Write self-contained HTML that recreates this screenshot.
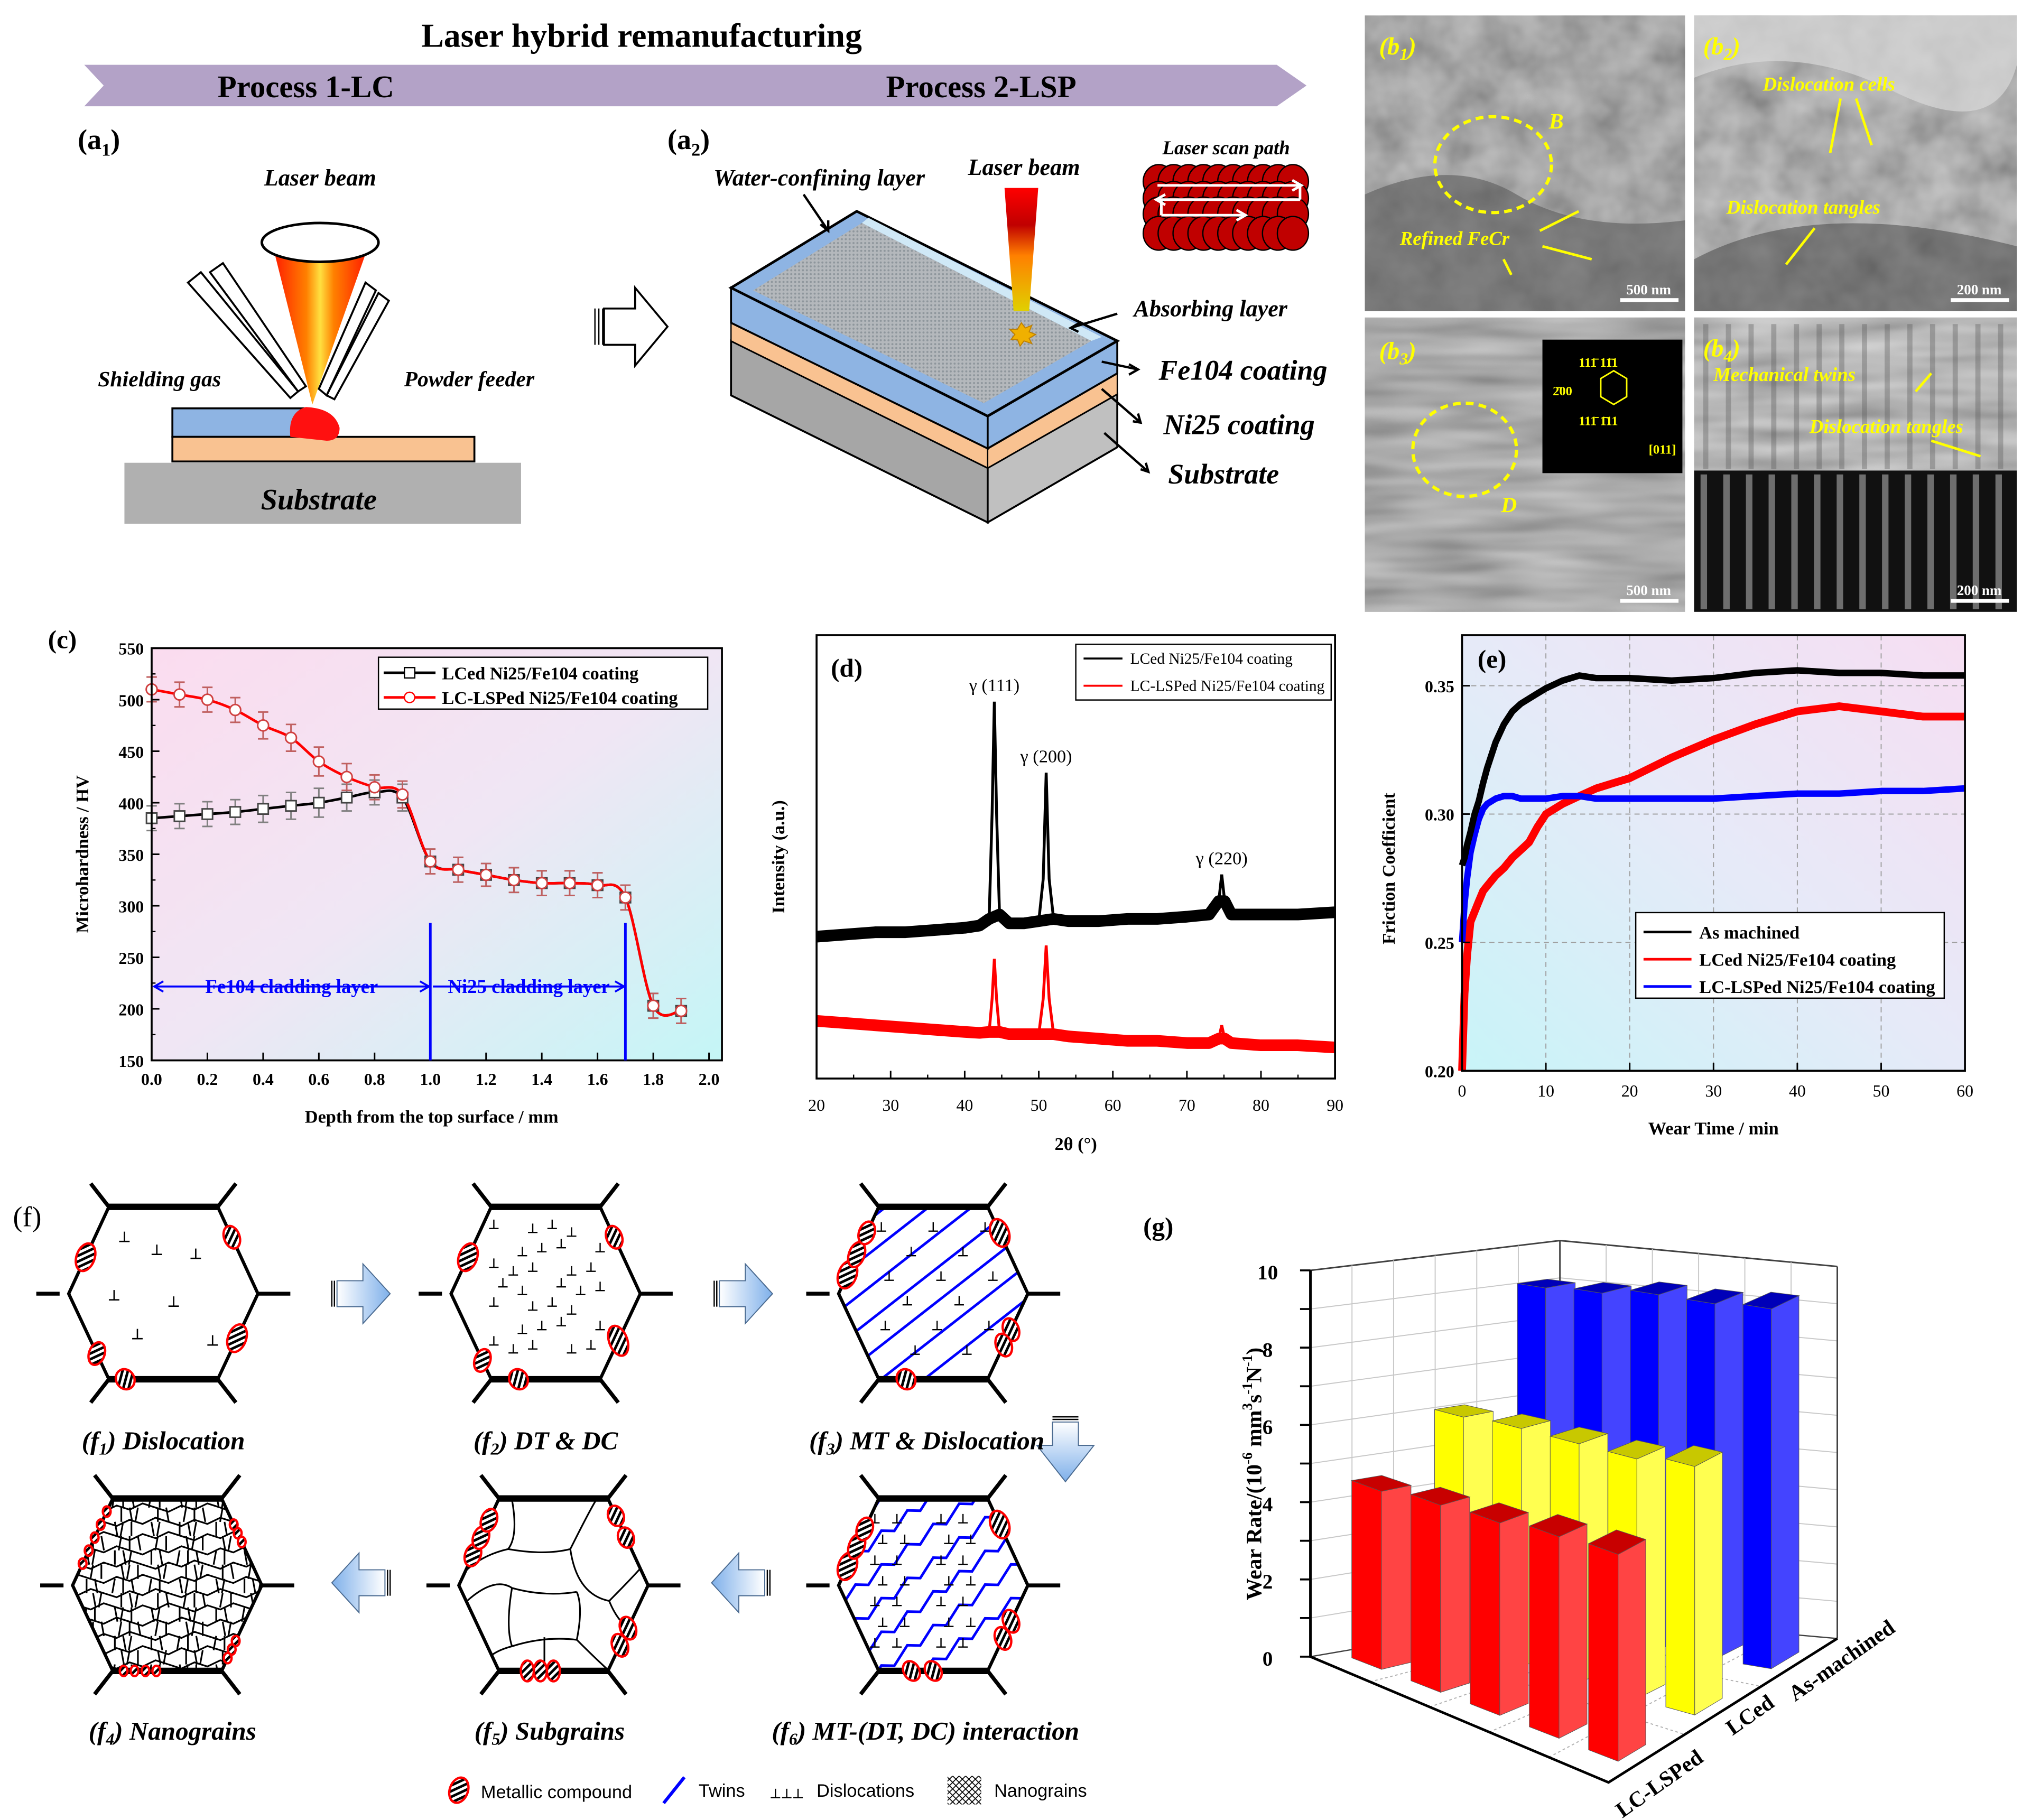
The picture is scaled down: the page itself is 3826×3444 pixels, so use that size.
<!DOCTYPE html>
<html><head><meta charset="utf-8">
<style>
html,body{margin:0;padding:0;background:#fff;}
svg{display:block;}
.s{font-family:"Liberation Serif",serif;}
.ss{font-family:"Liberation Sans",sans-serif;}
.bi{font-family:"Liberation Serif",serif;font-weight:bold;font-style:italic;}
.b{font-family:"Liberation Serif",serif;font-weight:bold;}
</style></head>
<body>
<svg id="fig" xmlns="http://www.w3.org/2000/svg" width="3826" height="3444" viewBox="0 0 1560 1404" preserveAspectRatio="none">
<defs>
<linearGradient id="beam1" x1="0" x2="1" y1="0" y2="0"><stop offset="0" stop-color="#ff2000"/><stop offset="0.35" stop-color="#ff8000"/><stop offset="0.5" stop-color="#ffe040"/><stop offset="0.65" stop-color="#ff8000"/><stop offset="1" stop-color="#ff2000"/></linearGradient>
<linearGradient id="beam2" x1="0" x2="0" y1="0" y2="1"><stop offset="0" stop-color="#ff0000"/><stop offset="0.3" stop-color="#c00000"/><stop offset="0.55" stop-color="#ff8000"/><stop offset="1" stop-color="#e0d000"/></linearGradient>
<linearGradient id="bgC" x1="0" y1="0" x2="1" y2="1"><stop offset="0" stop-color="#fbdcef"/><stop offset="0.5" stop-color="#f0e6f4"/><stop offset="1" stop-color="#c4f6f6"/></linearGradient>
<linearGradient id="bgE" x1="0" y1="1" x2="1" y2="0"><stop offset="0" stop-color="#c8f4f8"/><stop offset="0.5" stop-color="#e6eaf8"/><stop offset="1" stop-color="#f6def2"/></linearGradient>
<linearGradient id="arrR" x1="0" x2="1"><stop offset="0" stop-color="#ffffff"/><stop offset="1" stop-color="#7fb0ea"/></linearGradient>
<linearGradient id="arrL" x1="1" x2="0"><stop offset="0" stop-color="#ffffff"/><stop offset="1" stop-color="#7fb0ea"/></linearGradient>
<linearGradient id="arrD" x1="0" x2="0" y1="0" y2="1"><stop offset="0" stop-color="#ffffff"/><stop offset="1" stop-color="#7fb0ea"/></linearGradient>
<pattern id="hatch" width="4" height="4" patternUnits="userSpaceOnUse" patternTransform="rotate(45)"><rect width="4" height="4" fill="#fff"/><rect width="2" height="4" fill="#000"/></pattern>
<pattern id="mesh" width="3" height="3" patternUnits="userSpaceOnUse"><rect width="3" height="3" fill="#b4b8bc"/><circle cx="1.5" cy="1.5" r="0.8" fill="#8e969c"/></pattern>
<pattern id="xh" width="5" height="5" patternUnits="userSpaceOnUse"><path d="M0 0L5 5M5 0L0 5" stroke="#000" stroke-width="0.7"/></pattern>
<filter id="tex" x="0" y="0" width="1" height="1"><feTurbulence type="fractalNoise" baseFrequency="0.035" numOctaves="3" seed="4"/><feColorMatrix type="saturate" values="0"/><feComponentTransfer><feFuncA type="linear" slope="0" intercept="0.55"/></feComponentTransfer></filter>
<filter id="tex2" x="0" y="0" width="1" height="1"><feTurbulence type="fractalNoise" baseFrequency="0.012 0.08" numOctaves="2" seed="9"/><feColorMatrix type="saturate" values="0"/><feComponentTransfer><feFuncA type="linear" slope="0" intercept="0.6"/></feComponentTransfer></filter>
</defs>

<text class="b" x="495" y="36" font-size="26" text-anchor="middle">Laser hybrid remanufacturing</text>
<polygon points="65,50 985,50 1008,66 985,82 65,82 80,66" fill="#b3a2c7"/>
<text class="b" x="236" y="75" font-size="24" text-anchor="middle">Process 1-LC</text>
<text class="b" x="757" y="75" font-size="24" text-anchor="middle">Process 2-LSP</text>

<g>
<text class="b" x="60" y="115" font-size="22">(a<tspan font-size="14" dy="5">1</tspan><tspan dy="-5">)</tspan></text>
<text class="bi" x="247" y="143" font-size="18" text-anchor="middle">Laser beam</text>
<polygon points="212,196 282,196 241,312" fill="url(#beam1)"/>
<ellipse cx="247" cy="187" rx="45" ry="15" fill="#fff" stroke="#000" stroke-width="2"/>
<polygon points="145,218 155,210 230,302 224,307" fill="#fff" stroke="#000" stroke-width="1.5"/>
<polygon points="162,210 172,203 236,298 230,302" fill="#fff" stroke="#000" stroke-width="1.5"/>
<polygon points="300,232 292,226 252,305 258,308" fill="#fff" stroke="#000" stroke-width="1.5"/>
<polygon points="290,224 282,218 246,300 252,305" fill="#fff" stroke="#000" stroke-width="1.5"/>
<rect x="133" y="315" width="104" height="22" fill="#8eb4e3" stroke="#000" stroke-width="1.5"/>
<rect x="133" y="337" width="233" height="19" fill="#f9c291" stroke="#000" stroke-width="1.5"/>
<path d="M224 337 Q222 318 236 314 Q258 315 262 330 Q262 340 252 340 Z" fill="#ff1010"/>
<rect x="96" y="357" width="306" height="47" fill="#b0b0b0"/>
<text class="bi" x="246" y="393" font-size="23" text-anchor="middle">Substrate</text>
<text class="bi" x="123" y="298" font-size="17" text-anchor="middle">Shielding gas</text>
<text class="bi" x="362" y="298" font-size="17" text-anchor="middle">Powder feeder</text>
</g>
<g>
<polygon points="466,238 490,238 490,222 515,252 490,282 490,266 466,266" fill="#fff" stroke="#000" stroke-width="1.5"/>
<path d="M459 238V266M462 238V266M465 238V266" stroke="#000" stroke-width="1"/>
</g>

<g>
<text class="b" x="515" y="115" font-size="22">(a<tspan font-size="14" dy="5">2</tspan><tspan dy="-5">)</tspan></text>
<polygon points="564,305 762,403 762,361 564,263" fill="#a6a6a6" stroke="#000" stroke-width="1.5"/>
<polygon points="762,403 862,345 862,304 762,361" fill="#c0c0c0" stroke="#000" stroke-width="1.5"/>
<polygon points="564,263 762,361 762,346 564,249" fill="#f9c291" stroke="#000" stroke-width="1"/>
<polygon points="762,361 862,304 862,288 762,346" fill="#f9c291" stroke="#000" stroke-width="1"/>
<polygon points="564,249 762,346 762,321 564,222" fill="#8eb4e3" stroke="#000" stroke-width="1.5"/>
<polygon points="762,346 862,288 862,263 762,321" fill="#8eb4e3" stroke="#000" stroke-width="1.5"/>
<polygon points="564,222 661,163 862,263 762,321" fill="#8eb4e3" stroke="#000" stroke-width="2"/>
<polygon points="581,224 665,172 842,263 759,311" fill="url(#mesh)"/>
<polygon points="665,172 670,168 850,260 842,263" fill="#cfe8f6"/>
<polygon points="775,145 801,145 794,240 782,240" fill="url(#beam2)"/>
<polygon points="788,249 791,253 796,251 794,256 799,258 794,261 796,265 790,263 787,267 785,262 780,262 783,258 779,254 785,254" fill="#f0b000" stroke="#c08000" stroke-width="0.8"/>
<text class="bi" x="632" y="143" font-size="18" text-anchor="middle">Water-confining layer</text>
<text class="bi" x="790" y="135" font-size="18" text-anchor="middle">Laser beam</text>
<text class="bi" x="946" y="119" font-size="15" text-anchor="middle">Laser scan path</text>
<text class="bi" x="934" y="244" font-size="18" text-anchor="middle">Absorbing layer</text>
<text class="bi" x="959" y="293" font-size="22" text-anchor="middle">Fe104 coating</text>
<text class="bi" x="956" y="335" font-size="22" text-anchor="middle">Ni25 coating</text>
<text class="bi" x="944" y="373" font-size="22" text-anchor="middle">Substrate</text>
<g stroke="#000" stroke-width="1.8" fill="none">
<path d="M620 150L639 178M633 173L639 178L639 170"/>
<path d="M862 242L826 253M833 249L826 253L832 256"/>
<path d="M850 279L878 285M871 281L878 285L871 289"/>
<path d="M850 300L880 326M874 325L880 326L878 319"/>
<path d="M852 334L886 364M880 362L886 364L884 357"/>
</g>
<g id="scanpath"></g>
</g>

<g>
<rect x="1053" y="12" width="247" height="228" fill="#8a8a8a"/>
<rect x="1053" y="12" width="247" height="228" filter="url(#tex)"/>
<path d="M1053 150 Q1120 120 1170 150 T1300 170 L1300 240 L1053 240Z" fill="#5c5c5c" opacity="0.6"/>
<ellipse cx="1152" cy="127" rx="45" ry="37" fill="none" stroke="#ffff00" stroke-width="2.5" stroke-dasharray="6,4"/>
<text class="bi" x="1064" y="42" font-size="19" fill="#ffff00">(b<tspan font-size="13" dy="4">1</tspan><tspan dy="-4">)</tspan></text>
<text class="bi" x="1195" y="99" font-size="17" fill="#ffff00">B</text>
<text class="bi" x="1080" y="189" font-size="15" fill="#ffff00">Refined FeCr</text>
<path d="M1188 178L1218 163M1160 200L1166 212M1190 190L1228 200" stroke="#ffff00" stroke-width="2"/>
<rect x="1250" y="230" width="45" height="3" fill="#fff"/>
<text class="b" x="1272" y="227" font-size="11" fill="#fff" text-anchor="middle">500 nm</text>
</g>
<g>
<rect x="1307" y="12" width="249" height="228" fill="#9a9a9a"/>
<rect x="1307" y="12" width="249" height="228" filter="url(#tex)"/>
<path d="M1307 60 Q1380 30 1460 70 T1556 50 L1556 12 L1307 12Z" fill="#d8d8d8" opacity="0.7"/>
<path d="M1307 200 Q1400 150 1556 190 L1556 240 L1307 240Z" fill="#404040" opacity="0.5"/>
<text class="bi" x="1314" y="42" font-size="19" fill="#ffff00">(b<tspan font-size="13" dy="4">2</tspan><tspan dy="-4">)</tspan></text>
<text class="bi" x="1360" y="70" font-size="15" fill="#ffff00">Dislocation cells</text>
<text class="bi" x="1332" y="165" font-size="15" fill="#ffff00">Dislocation tangles</text>
<path d="M1420 76L1412 118M1432 76L1444 112M1400 176L1378 204" stroke="#ffff00" stroke-width="2"/>
<rect x="1505" y="230" width="45" height="3" fill="#fff"/>
<text class="b" x="1527" y="227" font-size="11" fill="#fff" text-anchor="middle">200 nm</text>
</g>
<g>
<rect x="1053" y="245" width="247" height="227" fill="#909090"/>
<rect x="1053" y="245" width="247" height="227" filter="url(#tex2)"/>
<ellipse cx="1130" cy="347" rx="40" ry="36" fill="none" stroke="#ffff00" stroke-width="2.5" stroke-dasharray="6,4"/>
<text class="bi" x="1064" y="277" font-size="19" fill="#ffff00">(b<tspan font-size="13" dy="4">3</tspan><tspan dy="-4">)</tspan></text>
<text class="bi" x="1158" y="395" font-size="17" fill="#ffff00">D</text>
<rect x="1190" y="262" width="108" height="103" fill="#000"/>
<text class="b" x="1218" y="283" font-size="10" fill="#ffff00">111̄  11̄1</text>
<text class="b" x="1198" y="305" font-size="10" fill="#ffff00">2̄00</text>
<text class="b" x="1218" y="328" font-size="10" fill="#ffff00">111̄  1̄11</text>
<path d="M1235 292l10 -6l10 6v14l-10 6l-10 -6z" fill="none" stroke="#ffff00" stroke-width="1.2"/>
<text class="b" x="1272" y="350" font-size="10" fill="#ffff00">[011]</text>
<rect x="1250" y="462" width="45" height="3" fill="#fff"/>
<text class="b" x="1272" y="459" font-size="11" fill="#fff" text-anchor="middle">500 nm</text>
</g>
<g>
<rect x="1307" y="245" width="249" height="118" fill="#b0b0b0"/>
<rect x="1307" y="245" width="249" height="118" filter="url(#tex2)"/>
<rect x="1307" y="363" width="249" height="109" fill="#111"/>
<g id="b4streaks"></g>
<text class="bi" x="1314" y="275" font-size="19" fill="#ffff00">(b<tspan font-size="13" dy="4">4</tspan><tspan dy="-4">)</tspan></text>
<text class="bi" x="1322" y="294" font-size="15" fill="#ffff00">Mechanical twins</text>
<text class="bi" x="1396" y="334" font-size="15" fill="#ffff00">Dislocation tangles</text>
<path d="M1478 302L1490 288M1490 340L1528 352" stroke="#ffff00" stroke-width="2"/>
<rect x="1505" y="462" width="45" height="3" fill="#fff"/>
<text class="b" x="1527" y="459" font-size="11" fill="#fff" text-anchor="middle">200 nm</text>
</g>

<g id="chartC">
<text class="b" x="37" y="500" font-size="20">(c)</text>
<rect x="117" y="500" width="440" height="318" fill="url(#bgC)"/>
</g>
<g id="chartD">
<rect x="630" y="490" width="400" height="342" fill="#fff"/>
<text class="b" x="641" y="522" font-size="20">(d)</text>
</g>
<g id="chartE">
<rect x="1128" y="490" width="388" height="336" fill="url(#bgE)"/>
</g>

<g id="panelF">
<text class="s" x="10" y="946" font-size="22">(f)</text>
</g>

<g id="chartG">
<text class="b" x="882" y="953" font-size="20">(g)</text>
</g>
</svg>

<script>
const NS='http://www.w3.org/2000/svg';
function mk(tag, attrs, parent){const e=document.createElementNS(NS,tag);for(const k in attrs)e.setAttribute(k,attrs[k]);parent.appendChild(e);return e;}
function txt(s, attrs, parent){const e=mk('text',attrs,parent);e.textContent=s;return e;}

/* ---------- chart c data ---------- */
const depthC=[0,0.1,0.2,0.3,0.4,0.5,0.6,0.7,0.8,0.9,1.0,1.1,1.2,1.3,1.4,1.5,1.6,1.7,1.8,1.9];
const hvLC=[385,387,389,391,394,397,400,405,410,405,343,335,330,325,322,322,320,308,203,198];
const hvLSP=[510,505,500,490,475,463,440,425,415,408,343,335,330,325,322,322,320,308,203,198];
const errC=[12,12,12,12,13,13,14,13,12,13,12,12,11,12,12,12,12,12,12,12];
const xTicksC=[0,0.2,0.4,0.6,0.8,1.0,1.2,1.4,1.6,1.8,2.0];
const yTicksC=[150,200,250,300,350,400,450,500,550];

/* ---------- chart d data ---------- */
const angD=[20,24,28,32,36,40,42,43.3,43.7,44,44.3,44.7,46,48,50,50.6,51,51.4,52,54,58,62,66,70,73,74.3,74.7,75.1,76,80,85,90];
const intLC=[32,32.5,33,33,33.5,34,34.5,36,60,85,60,37,35,35,35.5,45,69,45,36,35.5,35.5,36,36,36.5,37,40,46,40,37,37,37,37.5];
const intLSP=[13,12.5,12,11.5,11,10.5,10.3,10.5,18,27,18,10.5,10,10,10,18,30,18,10,9.5,9,8.5,8.5,8,8,9,12,9,8,7.5,7.5,7];
const peakAngD=[43.7,44,44.3,50.6,51,51.4,74.7];
const xTicksD=[20,30,40,50,60,70,80,90];

/* ---------- chart e data ---------- */
const timeE=[0,0.3,0.6,1,1.5,2,2.5,3,4,5,6,7,8,9,10,12,14,16,18,20,25,30,35,40,45,50,55,60];
const fcAsMachined=[0.28,0.283,0.288,0.293,0.3,0.305,0.312,0.318,0.328,0.335,0.34,0.343,0.345,0.347,0.349,0.352,0.354,0.353,0.353,0.353,0.352,0.353,0.355,0.356,0.355,0.355,0.354,0.354];
const fcLCed=[0.20,0.23,0.245,0.258,0.262,0.266,0.27,0.272,0.276,0.279,0.283,0.286,0.289,0.295,0.30,0.304,0.307,0.31,0.312,0.314,0.322,0.329,0.335,0.34,0.342,0.34,0.338,0.338];
const fcLCLSP=[0.25,0.265,0.275,0.285,0.292,0.298,0.302,0.304,0.306,0.307,0.307,0.306,0.306,0.306,0.306,0.307,0.307,0.306,0.306,0.306,0.306,0.306,0.307,0.308,0.308,0.309,0.309,0.31];
const xTicksE=[0,10,20,30,40,50,60];
const yTicksE=[0.20,0.25,0.30,0.35];

/* ---------- chart g data ---------- */
const rowsG=['LC-LSPed','LCed','As-machined'];
const wearLSP=[4.6,4.8,4.9,5.1,5.2];
const wearLC=[6.1,6.2,6.2,6.2,6.4];
const wearAM=[9.1,9.2,9.4,9.4,9.5];
const zTicksG=[0,2,4,6,8,10];

(function(){
 const g=document.getElementById('scanpath');
 const rows=[140,153,165,180];
 rows.forEach(ry=>{for(let i=0;i<10;i++){mk('ellipse',{cx:894+i*11.5,cy:ry,rx:12,ry:13,fill:'#c00000',stroke:'#000','stroke-width':1},g);}});
 mk('path',{d:'M893 143H1003M1003 143V154M893 154H1003M896 154V166M896 166H960',stroke:'#fff','stroke-width':2,fill:'none'},g);
 mk('path',{d:'M997 139L1004 143L997 147M899 150L892 154L899 158M954 162L961 166L954 170',stroke:'#fff','stroke-width':2,fill:'none'},g);
 const s=document.getElementById('b4streaks');
 for(let i=0;i<14;i++){mk('rect',{x:1312+i*17.5,y:366,width:5,height:104,fill:'#bbbbbb',opacity:0.55},s);}
 for(let i=0;i<14;i++){mk('rect',{x:1314+i*17.5,y:250,width:4,height:112,fill:'#555',opacity:0.35},s);}
})();

function smoothPath(pts){
 let d='M'+pts[0][0]+' '+pts[0][1];
 for(let i=0;i<pts.length-1;i++){
  const p0=pts[Math.max(0,i-1)],p1=pts[i],p2=pts[i+1],p3=pts[Math.min(pts.length-1,i+2)];
  const c1=[p1[0]+(p2[0]-p0[0])/6,p1[1]+(p2[1]-p0[1])/6],c2=[p2[0]-(p3[0]-p1[0])/6,p2[1]-(p3[1]-p1[1])/6];
  d+=' C'+c1[0].toFixed(1)+' '+c1[1].toFixed(1)+' '+c2[0].toFixed(1)+' '+c2[1].toFixed(1)+' '+p2[0].toFixed(1)+' '+p2[1].toFixed(1);
 }
 return d;
}

/* ===== chart c ===== */
(function(){
 const g=document.getElementById('chartC');
 const xC=v=>117+v*215, yC=v=>818-(v-150)*0.795;
 [hvLC,hvLSP].forEach((arr,si)=>{
  arr.forEach((v,i)=>{
   const x=xC(depthC[i]),e=errC[i];
   const eb=mk('path',{d:`M${x} ${yC(v-e)}V${yC(v+e)}M${x-4} ${yC(v-e)}H${x+4}M${x-4} ${yC(v+e)}H${x+4}`,stroke:si?'#c06060':'#808080','stroke-width':1.2,fill:'none'},g);
   
   
  });
 });
 const lineLC=mk('path',{d:smoothPath(depthC.map((d,i)=>[xC(d),yC(hvLC[i])])),stroke:'#000','stroke-width':2,fill:'none'},g);
 
 
 const lineLSP=mk('path',{d:smoothPath(depthC.map((d,i)=>[xC(d),yC(hvLSP[i])])),stroke:'#ff0000','stroke-width':2,fill:'none'},g);
 
 
 depthC.forEach((d,i)=>{
  const m=mk('rect',{x:xC(d)-4,y:yC(hvLC[i])-4,width:8,height:8,fill:'#fff',stroke:'#444','stroke-width':1.2},g);
  
  
  const c=mk('circle',{cx:xC(d),cy:yC(hvLSP[i]),r:4.2,fill:'#fff',stroke:'#d04040','stroke-width':1.2},g);
  
  
 });
 mk('rect',{x:117,y:500,width:440,height:318,fill:'none',stroke:'#000','stroke-width':1.5},g);
 xTicksC.forEach(v=>{
  mk('line',{x1:xC(v),x2:xC(v),y1:818,y2:812,stroke:'#000','stroke-width':1.2},g);
  const t=txt(v.toFixed(1),{x:xC(v),y:837,'font-size':13,'text-anchor':'middle',class:'b'},g);
  
  
 });
 yTicksC.forEach(v=>{
  mk('line',{x1:117,x2:123,y1:yC(v),y2:yC(v),stroke:'#000','stroke-width':1.2},g);
  if(v<550) mk('line',{x1:117,x2:120,y1:yC(v+25),y2:yC(v+25),stroke:'#000','stroke-width':1},g);
  const t=txt(String(v),{x:111,y:yC(v)+5,'font-size':13,'text-anchor':'end',class:'b'},g);
  
  
 });
 const xt=txt('Depth from the top surface / mm',{x:333,y:866,'font-size':14,'text-anchor':'middle',class:'b'},g);
 
 
 const yt=txt('Microhardness / HV',{x:0,y:0,'font-size':14,'text-anchor':'middle',class:'b',transform:'translate(68,659) rotate(-90)'},g);
 
 
 mk('path',{d:`M${xC(1.0)} 712V818M${xC(1.7)} 712V818`,stroke:'#0000ff','stroke-width':2},g);
 mk('path',{d:`M120 761H${xC(1.0)-2}M${xC(1.0)+2} 761H${xC(1.7)-2}M126 757L119 761L126 765M${xC(1.0)-8} 757L${xC(1.0)-1} 761L${xC(1.0)-8} 765M${xC(1.7)-8} 757L${xC(1.7)-1} 761L${xC(1.7)-8} 765`,stroke:'#0000ff','stroke-width':1.5,fill:'none'},g);
 const a1=txt('Fe104 cladding layer',{x:225,y:766,'font-size':15,'text-anchor':'middle',class:'b',fill:'#0000ff'},g);
 
 
 const a2=txt('Ni25 cladding layer',{x:408,y:766,'font-size':15,'text-anchor':'middle',class:'b',fill:'#0000ff'},g);
 
 
 const lg=mk('g',{},g);
 
 
 mk('rect',{x:292,y:507,width:254,height:40,fill:'#fff',stroke:'#000','stroke-width':1},lg);
 mk('line',{x1:296,x2:336,y1:519,y2:519,stroke:'#000','stroke-width':2},lg);
 mk('rect',{x:312,y:515,width:8,height:8,fill:'#fff',stroke:'#000'},lg);
 txt('LCed Ni25/Fe104 coating',{x:341,y:524,'font-size':14,class:'b'},lg);
 mk('line',{x1:296,x2:336,y1:538,y2:538,stroke:'#ff0000','stroke-width':2},lg);
 mk('circle',{cx:316,cy:538,r:4,fill:'#fff',stroke:'#ff0000'},lg);
 txt('LC-LSPed Ni25/Fe104 coating',{x:341,y:543,'font-size':14,class:'b'},lg);
})();

/* ===== chart d ===== */
(function(){
 const g=document.getElementById('chartD');
 const xD=a=>630+(a-20)*400/70, yD=I=>832-I*3.42;
 const series=[[intLC,'#000','series-lced-xrd'],[intLSP,'#ff0000','series-lc-lsped-xrd']];
 series.forEach(([arr,col,nm])=>{
  const base=angD.map((a,i)=>[a,arr[i]]).filter(p=>peakAngD.indexOf(p[0])<0);
  const band=mk('polyline',{points:base.map(p=>xD(p[0])+','+yD(p[1])).join(' '),stroke:col,'stroke-width':9,fill:'none','stroke-linejoin':'round'},g);
  
  
  const l=mk('polyline',{points:angD.map((a,i)=>xD(a)+','+yD(arr[i])).join(' '),stroke:col,'stroke-width':2.2,fill:'none'},g);
  
  
 });
 mk('rect',{x:630,y:490,width:400,height:342,fill:'none',stroke:'#000','stroke-width':1.5},g);
 xTicksD.forEach(v=>{
  mk('line',{x1:xD(v),x2:xD(v),y1:832,y2:826,stroke:'#000','stroke-width':1.2},g);
  if(v<90) mk('line',{x1:xD(v+5),x2:xD(v+5),y1:832,y2:829,stroke:'#000','stroke-width':1},g);
  const t=txt(String(v),{x:xD(v),y:857,'font-size':13,'text-anchor':'middle',class:'s'},g);
  
  
 });
 const pk=[['γ (111)',44,85],['γ (200)',51,69],['γ (220)',74.7,46]];
 pk.forEach(p=>{const t=txt(p[0],{x:xD(p[1]),y:yD(p[2])-8,'font-size':14,'text-anchor':'middle',class:'s'},g);
  
  });
 const xt=txt('2θ (°)',{x:830,y:887,'font-size':14,'text-anchor':'middle',class:'b'},g);
 
 
 const yt=txt('Intensity (a.u.)',{x:0,y:0,'font-size':14,'text-anchor':'middle',class:'b',transform:'translate(605,661) rotate(-90)'},g);
 
 
 const lg=mk('g',{},g);
 
 
 mk('rect',{x:830,y:497,width:197,height:43,fill:'#fff',stroke:'#000','stroke-width':1},lg);
 mk('line',{x1:836,x2:866,y1:508,y2:508,stroke:'#000','stroke-width':1.5},lg);
 txt('LCed Ni25/Fe104 coating',{x:872,y:512,'font-size':12,class:'s'},lg);
 mk('line',{x1:836,x2:866,y1:529,y2:529,stroke:'#ff0000','stroke-width':1.5},lg);
 txt('LC-LSPed Ni25/Fe104 coating',{x:872,y:533,'font-size':12,class:'s'},lg);
})();

/* ===== chart e ===== */
(function(){
 const g=document.getElementById('chartE');
 const xE=t=>1128+t*388/60, yE=f=>826-(f-0.20)*1980;
 xTicksE.slice(1,-1).forEach(v=>mk('line',{x1:xE(v),x2:xE(v),y1:490,y2:826,stroke:'#a0a0a0','stroke-width':0.8,'stroke-dasharray':'4,3'},g));
 yTicksE.slice(1).forEach(v=>mk('line',{x1:1128,x2:1516,y1:yE(v),y2:yE(v),stroke:'#a0a0a0','stroke-width':0.8,'stroke-dasharray':'4,3'},g));
 const ser=[[fcLCed,'#ff0000','series-lced-friction',6],[fcLCLSP,'#0000ff','series-lc-lsped-friction',5],[fcAsMachined,'#000','series-as-machined-friction',5]];
 ser.forEach(([arr,col,nm,w])=>{
  const l=mk('polyline',{points:timeE.map((t,i)=>xE(t).toFixed(1)+','+yE(arr[i]).toFixed(1)).join(' '),stroke:col,'stroke-width':w,fill:'none','stroke-linejoin':'round'},g);
  
  
 });
 mk('rect',{x:1128,y:490,width:388,height:336,fill:'none',stroke:'#000','stroke-width':1.5},g);
 xTicksE.forEach(v=>{
  mk('line',{x1:xE(v),x2:xE(v),y1:826,y2:820,stroke:'#000','stroke-width':1.2},g);
  const t=txt(String(v),{x:xE(v),y:846,'font-size':13,'text-anchor':'middle',class:'s'},g);
  
  
 });
 yTicksE.forEach(v=>{
  mk('line',{x1:1128,x2:1134,y1:yE(v),y2:yE(v),stroke:'#000','stroke-width':1.2},g);
  const t=txt(v.toFixed(2),{x:1122,y:yE(v)+5,'font-size':13,'text-anchor':'end',class:'b'},g);
  
  
 });
 const lbl=txt('(e)',{x:1140,y:515,'font-size':20,class:'b'},g);
 
 
 const xt=txt('Wear Time / min',{x:1322,y:875,'font-size':14,'text-anchor':'middle',class:'b'},g);
 
 
 const yt=txt('Friction Coefficient',{x:0,y:0,'font-size':14,'text-anchor':'middle',class:'b',transform:'translate(1076,670) rotate(-90)'},g);
 
 
 const lg=mk('g',{},g);
 
 
 mk('rect',{x:1262,y:704,width:238,height:66,fill:'#fff',stroke:'#000','stroke-width':1},lg);
 [['As machined','#000'],['LCed Ni25/Fe104 coating','#ff0000'],['LC-LSPed Ni25/Fe104 coating','#0000ff']].forEach((e,i)=>{
  mk('line',{x1:1268,x2:1305,y1:719+i*21,y2:719+i*21,stroke:e[1],'stroke-width':2},lg);
  txt(e[0],{x:1311,y:724+i*21,'font-size':14,class:'b'},lg);
 });
})();

/* ===== panel f ===== */
(function(){
 const g=document.getElementById('panelF');
 const V=[[-42,-67],[42,-67],[73,0],[42,66],[-42,66],[-73,0]];
 function hexPts(cx,cy){return V.map(v=>(cx+v[0])+','+(cy+v[1])).join(' ');}
 let cid=0;
 function hex(cx,cy,name){
  const hg=mk('g',{},g);
  
  
  const id='hc'+(cid++);
  const cp=mk('clipPath',{id:id},hg); mk('polygon',{points:hexPts(cx,cy)},cp);
  const inner=mk('g',{'clip-path':'url(#'+id+')'},hg);
  mk('polygon',{points:hexPts(cx,cy),fill:'#fff',stroke:'none'},inner);
  return {hg,inner,cx,cy};
 }
 function frame(h){
  const {hg,cx,cy}=h;
  mk('polygon',{points:hexPts(cx,cy),fill:'none',stroke:'#000','stroke-width':2.5},hg);
  mk('path',{d:`M${cx-80} ${cy}H${cx-98}M${cx+73} ${cy}H${cx+98}M${cx-42} ${cy-67}L${cx-56} ${cy-85}M${cx+42} ${cy-67}L${cx+56} ${cy-85}M${cx-42} ${cy+66}L${cx-56} ${cy+84}M${cx+42} ${cy+66}L${cx+56} ${cy+84}`,stroke:'#000','stroke-width':3},hg);
  mk('path',{d:`M${cx-42} ${cy-67}H${cx+42}M${cx-42} ${cy+66}H${cx+42}`,stroke:'#000','stroke-width':5},hg);
 }
 function mc(parent,x,y,rx,ry,rot){mk('ellipse',{cx:x,cy:y,rx:rx,ry:ry,fill:'url(#hatch)',stroke:'#ff0000','stroke-width':1.8,transform:`rotate(${rot} ${x} ${y})`},parent);}
 function disl(parent,x,y,s){txt('⊥',{x:x,y:y,'font-size':s||11,'font-weight':'bold','text-anchor':'middle',class:'ss'},parent);}
 function edgePt(cx,cy,e,t){const a=V[e],b=V[(e+1)%6];return [cx+a[0]+(b[0]-a[0])*t,cy+a[1]+(b[1]-a[1])*t];}

 let h=hex(126,998,'hexagon-f1'); frame(h);
 [[-30,-40],[-5,-30],[25,-27],[-38,5],[8,10],[-20,35],[38,40]].forEach(p=>disl(h.hg,126+p[0],998+p[1]));
 [[5,0.42,7,11,20],[4,0.3,6,9,20],[2,0.52,7,11,20],[1,0.35,6,9,-20],[3,0.85,7,8,-30]].forEach(m=>{const p=edgePt(126,998,m[0],m[1]);mc(h.hg,p[0],p[1],m[2],m[3],m[4]);});
 h=hex(421,998,'hexagon-f2'); frame(h);
 for(let r=0;r<7;r++)for(let c=0;c<6;c++){if((r*7+c*3)%4===3)continue;const x=421-40+c*15+((r%2)*7),y=998-50+r*15+((c*5)%3)*3;disl(h.hg,x,y,10);}
 [[5,0.42,7,11,20],[4,0.22,6,9,20],[2,0.55,7,12,-20],[1,0.35,6,9,-20],[3,0.75,7,8,-30]].forEach(m=>{const p=edgePt(421,998,m[0],m[1]);mc(h.hg,p[0],p[1],m[2],m[3],m[4]);});
 h=hex(720,998,'hexagon-f3');
 for(let k=-3;k<=3;k++){mk('line',{x1:640,y1:998+k*26+45,x2:800,y2:998+k*26-80,stroke:'#0000ff','stroke-width':2},h.inner);}
 frame(h);
 for(let r=0;r<6;r++)for(let c=0;c<5;c++){if((r+c)%2)continue;disl(h.hg,720-40+c*20+(r%3)*3,998-48+r*19,10);}
 [[5,0.22,7,11,20],[5,0.45,6,10,20],[5,0.7,6,9,20],[1,0.3,7,11,-20],[2,0.42,6,9,-20],[2,0.6,6,9,-20],[3,0.75,7,8,-30]].forEach(m=>{const p=edgePt(720,998,m[0],m[1]);mc(h.hg,p[0],p[1],m[2],m[3],m[4]);});
 h=hex(720,1223,'hexagon-f6');
 for(let k=-3;k<=3;k++){let d='';for(let s=0;s<=16;s++){const x=640+s*10,y=1223+k*26+45-s*7.8+(s%2?4:-4);d+=(s?'L':'M')+x+' '+y;}mk('path',{d:d,stroke:'#0000ff','stroke-width':2,fill:'none'},h.inner);}
 frame(h);
 for(let r=0;r<7;r++)for(let c=0;c<6;c++){if((r*3+c)%3===2)continue;disl(h.hg,720-45+c*17+(r%2)*6,1223-48+r*16,10);}
 [[5,0.22,7,11,20],[5,0.45,6,10,20],[5,0.65,6,9,20],[1,0.3,7,11,-20],[2,0.42,6,9,-20],[2,0.62,6,9,-20],[3,0.7,6,8,-30],[3,0.5,6,8,-30]].forEach(m=>{const p=edgePt(720,1223,m[0],m[1]);mc(h.hg,p[0],p[1],m[2],m[3],m[4]);});
 h=hex(427,1223,'hexagon-f5');
 const sub='M395 1157Q400 1185 392 1195Q370 1200 356 1215M392 1195Q420 1200 440 1195Q455 1165 460 1157M440 1195Q445 1230 470 1235Q485 1220 494 1210M355 1240Q380 1215 395 1225Q420 1232 445 1228M395 1225Q390 1255 395 1270Q420 1262 445 1265Q450 1240 445 1228M445 1265Q460 1280 470 1289M395 1270Q375 1275 370 1289M420 1263L420 1289M470 1235Q480 1260 500 1262';
 mk('path',{d:sub,stroke:'#000','stroke-width':1.3,fill:'none'},h.inner);
 frame(h);
 [[5,0.35,6,9,20],[5,0.55,6,9,20],[5,0.75,6,9,20],[1,0.2,6,8,-20],[1,0.45,6,8,-20],[2,0.5,6,9,-20],[2,0.7,6,9,-20],[3,0.5,5,8,0],[3,0.62,5,8,0],[3,0.74,5,8,0]].forEach(m=>{const p=edgePt(427,1223,m[0],m[1]);mc(h.hg,p[0],p[1],m[2],m[3],m[4]);});
 h=hex(129,1223,'hexagon-f4');
 let nd='';
 for(let r=0;r<13;r++){let d='';for(let c=0;c<=16;c++){const x=50+c*10,y=1152+r*11+((c*7+r*3)%5-2)*1.6;d+=(c?'L':'M')+x+' '+y;}nd+=d;}
 for(let c=0;c<16;c++){for(let r=0;r<13;r++){const x=55+c*10+((r*5+c*3)%5-2)*1.8+(r%2)*5,y=1152+r*11;nd+='M'+x+' '+y+'L'+(x+((c+r)%3-1)*2)+' '+(y+11);}}
 mk('path',{d:nd,stroke:'#000','stroke-width':1.3,fill:'none'},h.inner);
 frame(h);
 [[5,0.25,3,4,0],[5,0.4,3,4,0],[5,0.55,3,4,0],[5,0.7,3,4,0],[5,0.85,3,4,0],[1,0.3,3,4,0],[1,0.4,3,4,0],[1,0.5,3,4,0],[2,0.65,3,4,0],[2,0.75,3,4,0],[2,0.85,3,4,0],[3,0.6,3,4,0],[3,0.7,3,4,0],[3,0.8,3,4,0],[3,0.9,3,4,0]].forEach(m=>{const p=edgePt(129,1223,m[0],m[1]);mc(h.hg,p[0],p[1],m[2],m[3],m[4]);});

 function arrR(x,y,dir,name){
  const a=mk('g',{},g);
  
  
  let pts,lines,fill;
  if(dir==='r'){pts=`${x+4},${y-10} ${x+24},${y-10} ${x+24},${y-23} ${x+45},${y} ${x+24},${y+23} ${x+24},${y+10} ${x+4},${y+10}`;lines=`M${x} ${y-10}V${y+10}M${x+2} ${y-10}V${y+10}`;fill='url(#arrR)';}
  else if(dir==='l'){pts=`${x+41},${y-10} ${x+21},${y-10} ${x+21},${y-23} ${x},${y} ${x+21},${y+23} ${x+21},${y+10} ${x+41},${y+10}`;lines=`M${x+45} ${y-10}V${y+10}M${x+43} ${y-10}V${y+10}`;fill='url(#arrL)';}
  else {pts=`${x-10},${y+4} ${x+10},${y+4} ${x+10},${y+22} ${x+22},${y+22} ${x},${y+50} ${x-22},${y+22} ${x-10},${y+22}`;lines=`M${x-10} ${y}H${x+10}M${x-10} ${y+2}H${x+10}`;fill='url(#arrD)';}
  mk('polygon',{points:pts,fill:fill,stroke:'#4a6a90','stroke-width':0.8},a);
  mk('path',{d:lines,stroke:'#000','stroke-width':1},a);
 }
 arrR(256,998,'r','arrow-f1-f2'); arrR(551,998,'r','arrow-f2-f3');
 arrR(822,1093,'d','arrow-f3-f6');
 arrR(549,1221,'l','arrow-f6-f5'); arrR(256,1221,'l','arrow-f5-f4');
 const labs=[['1',' Dislocation',126,1118],['2',' DT & DC',421,1118],['3',' MT & Dislocation',715,1118],['4','Nanograins',133,1342],['5','Subgrains',424,1342],['6','MT-(DT, DC) interaction',714,1342]];
 labs.forEach(l=>{
  const t=mk('text',{x:l[2],y:l[3],'font-size':20,'text-anchor':'middle',class:'bi'},g);
  
  
  t.innerHTML=`(f<tspan font-size="13" dy="4">${l[0]}</tspan><tspan dy="-4">) ${l[1]}</tspan>`;
 });
 const lg=mk('g',{},g);
 
 
 mc(lg,354,1381,7,10,20);
 txt('Metallic compound',{x:371,y:1387,'font-size':14,class:'ss'},lg);
 mk('line',{x1:512,y1:1391,x2:528,y2:1371,stroke:'#0000ff','stroke-width':2.5},lg);
 txt('Twins',{x:539,y:1386,'font-size':14,class:'ss'},lg);
 txt('⊥⊥⊥',{x:607,y:1387,'font-size':10,'font-weight':'bold','text-anchor':'middle',class:'ss'},lg);
 txt('Dislocations',{x:630,y:1386,'font-size':14,class:'ss'},lg);
 mk('rect',{x:731,y:1370,width:26,height:22,fill:'url(#xh)'},lg);
 txt('Nanograins',{x:767,y:1386,'font-size':14,class:'ss'},lg);
})();

/* ===== chart g ===== */
(function(){
 const g=document.getElementById('chartG');
 const L=[1011,1278],F=[1241,1375],R=[1417.5,1264],B=[1203.5,1245];
 const SL=29.8,SF=31,SR=28.7,SB=28.8;
 function P(u,v,z){
  const a=(1-u)*(1-v),b=u*(1-v),c=u*v,d=(1-u)*v;
  const x=a*L[0]+b*F[0]+c*R[0]+d*B[0];
  const y=a*L[1]+b*F[1]+c*R[1]+d*B[1];
  const s=a*SL+b*SF+c*SR+d*SB;
  return [x,y-(z||0)*s];
 }
 const pt=p=>p[0].toFixed(1)+','+p[1].toFixed(1);
 const wg=mk('g',{},g);
 
 
 for(let z=1;z<=10;z++){
  mk('polyline',{points:[P(0,0,z),P(0,1,z),P(1,1,z)].map(pt).join(' '),fill:'none',stroke:z===10?'#404040':'#c8c8c8','stroke-width':z===10?1.2:0.8},wg);
 }
 for(let k=1;k<=6;k++){
  mk('line',{x1:P(0,k/6,0)[0],y1:P(0,k/6,0)[1],x2:P(0,k/6,10)[0],y2:P(0,k/6,10)[1],stroke:k===6?'#404040':'#c8c8c8','stroke-width':k===6?1.2:0.8},wg);
  mk('line',{x1:P(k/6,1,0)[0],y1:P(k/6,1,0)[1],x2:P(k/6,1,10)[0],y2:P(k/6,1,10)[1],stroke:k===6?'#404040':'#c8c8c8','stroke-width':k===6?1.2:0.8},wg);
 }
 for(let k=1;k<5;k++){mk('line',{x1:P(k/5,0)[0],y1:P(k/5,0)[1],x2:P(k/5,1)[0],y2:P(k/5,1)[1],stroke:'#b0b0b0','stroke-width':0.8,'stroke-dasharray':'2,2'},wg);}
 for(let k=1;k<3;k++){mk('line',{x1:P(0,k/3)[0],y1:P(0,k/3)[1],x2:P(1,k/3)[0],y2:P(1,k/3)[1],stroke:'#b0b0b0','stroke-width':0.8,'stroke-dasharray':'2,2'},wg);}
 mk('polyline',{points:[P(0,1,0),P(1,1,0)].map(pt).join(' '),fill:'none',stroke:'#404040','stroke-width':1},wg);
 mk('line',{x1:P(0,1,0)[0],y1:P(0,1,0)[1],x2:P(0,0,0)[0],y2:P(0,0,0)[1],stroke:'#404040','stroke-width':1},wg);
 const rowsData=[wearAM,wearLC,wearLSP];
 const cols=[['#0000ff','#4444ff','#0000b8'],['#ffff00','#ffff50','#c8c800'],['#ff0000','#ff4444','#c80000']];
 const du=0.1,dv=0.12;
 rowsData.forEach((arr,ri)=>{
  const r=2-ri; const vc=(r+0.5)/3;
  arr.forEach((val,c)=>{
   const uc=(c+0.5)/5;
   const u0=uc-du/2,u1=uc+du/2,v0=vc-dv/2,v1=vc+dv/2;
   const bg=mk('g',{},g);
   
   
   mk('polygon',{points:[P(u0,v0,0),P(u1,v0,0),P(u1,v0,val),P(u0,v0,val)].map(pt).join(' '),fill:cols[ri][0],stroke:'#555','stroke-width':0.4},bg);
   mk('polygon',{points:[P(u1,v0,0),P(u1,v1,0),P(u1,v1,val),P(u1,v0,val)].map(pt).join(' '),fill:cols[ri][1],stroke:'#555','stroke-width':0.4},bg);
   mk('polygon',{points:[P(u0,v0,val),P(u1,v0,val),P(u1,v1,val),P(u0,v1,val)].map(pt).join(' '),fill:cols[ri][2],stroke:'#555','stroke-width':0.4},bg);
  });
 });
 mk('polyline',{points:[P(0,0,10),P(0,0,0),P(1,0,0),P(1,1,0)].map(pt).join(' '),fill:'none',stroke:'#000','stroke-width':2},g);
 for(let z=0;z<=10;z++){const p=P(0,0,z);mk('line',{x1:p[0]-8,y1:p[1],x2:p[0],y2:p[1],stroke:'#000','stroke-width':1.5},g);}
 zTicksG.forEach(z=>{const p=P(0,0,z);
  const t=txt(String(z),{x:p[0]-33,y:p[1]+7,'font-size':16,'text-anchor':'middle',class:'b'},g);
  
  });
 const labOff=[[13,24],[24,8],[36,3]];
 rowsG.forEach((nm,r)=>{
  const p=P(1,(r+0.5)/3,0);
  const t=txt(nm,{x:0,y:0,'font-size':17,'text-anchor':'middle',class:'b',transform:`translate(${(p[0]+labOff[r][0]).toFixed(1)},${(p[1]+labOff[r][1]).toFixed(1)}) rotate(-35)`},g);
  
  
 });
 const yt=mk('text',{x:0,y:0,'font-size':17,'text-anchor':'middle',class:'b',transform:'translate(973,1137) rotate(-90)'},g);
 
 
 yt.innerHTML='Wear Rate/(10<tspan font-size="11" dy="-7">-6</tspan><tspan dy="7"> mm</tspan><tspan font-size="11" dy="-7">3</tspan><tspan dy="7">s</tspan><tspan font-size="11" dy="-7">-1</tspan><tspan dy="7">N</tspan><tspan font-size="11" dy="-7">-1</tspan><tspan dy="7">)</tspan>';
})();
</script>
</body></html>
